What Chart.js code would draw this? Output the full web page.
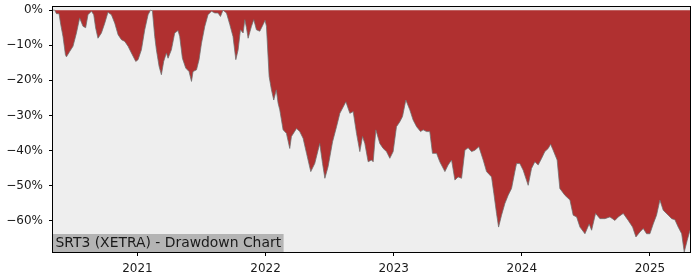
<!DOCTYPE html>
<html>
<head>
<meta charset="utf-8">
<script src="https://cdn.jsdelivr.net/npm/chart.js@4.4.1/dist/chart.umd.min.js"></script>
<style>
  html, body { margin: 0; padding: 0; background: #ffffff; }
  #wrap { width: 700px; height: 280px; position: relative; }
</style>
</head>
<body>
<div id="wrap"><canvas id="c" width="700" height="280"></canvas></div>
<script>
// Time as decimal years
const dates = [
  2020.341, 2020.354, 2020.368, 2020.388, 2020.401, 2020.419, 2020.438, 2020.446, 2020.471, 2020.497,
  2020.524, 2020.549, 2020.575, 2020.596, 2020.614, 2020.641, 2020.659, 2020.674, 2020.692, 2020.719,
  2020.745, 2020.770, 2020.797, 2020.823, 2020.849, 2020.875, 2020.901, 2020.927, 2020.953, 2020.987,
  2021.005, 2021.031, 2021.057, 2021.083, 2021.102, 2021.117, 2021.135, 2021.148, 2021.169, 2021.187,
  2021.205, 2021.226, 2021.239, 2021.265, 2021.291, 2021.317, 2021.330, 2021.351, 2021.377, 2021.403,
  2021.422, 2021.434, 2021.461, 2021.481, 2021.500, 2021.526, 2021.551, 2021.578, 2021.604, 2021.629,
  2021.648, 2021.668, 2021.695, 2021.721, 2021.746, 2021.768, 2021.786, 2021.804, 2021.825, 2021.838,
  2021.851, 2021.864, 2021.890, 2021.908, 2021.929, 2021.955, 2021.981, 2021.996, 2022.007, 2022.028,
  2022.046, 2022.064, 2022.084, 2022.098, 2022.111, 2022.137, 2022.163, 2022.189, 2022.202, 2022.242,
  2022.267, 2022.293, 2022.320, 2022.353, 2022.384, 2022.423, 2022.445, 2022.463, 2022.488, 2022.523,
  2022.554, 2022.580, 2022.627, 2022.658, 2022.684, 2022.710, 2022.736, 2022.757, 2022.775, 2022.801,
  2022.827, 2022.840, 2022.861, 2022.892, 2022.918, 2022.944, 2022.970, 2022.996, 2023.022, 2023.048,
  2023.069, 2023.095, 2023.126, 2023.152, 2023.179, 2023.210, 2023.230, 2023.257, 2023.282, 2023.303,
  2023.335, 2023.360, 2023.400, 2023.425, 2023.452, 2023.478, 2023.503, 2023.530, 2023.556, 2023.581,
  2023.608, 2023.634, 2023.665, 2023.699, 2023.725, 2023.764, 2023.782, 2023.803, 2023.819, 2023.842,
  2023.868, 2023.894, 2023.920, 2023.946, 2023.959, 2023.985, 2024.011, 2024.050, 2024.076, 2024.102,
  2024.128, 2024.155, 2024.180, 2024.206, 2024.225, 2024.245, 2024.276, 2024.297, 2024.336, 2024.376,
  2024.401, 2024.428, 2024.454, 2024.493, 2024.526, 2024.545, 2024.576, 2024.610, 2024.649, 2024.688,
  2024.727, 2024.753, 2024.792, 2024.831, 2024.865, 2024.891, 2024.922, 2024.948, 2024.974, 2025.000,
  2025.026, 2025.052, 2025.078, 2025.104, 2025.143, 2025.170, 2025.195, 2025.221, 2025.248, 2025.268,
  2025.291, 2025.313
];
// Drawdown in percent
const drawdown = [
  0, 0, -1, -1, -4, -7.5, -12.7, -13.3, -11.8, -10.3,
  -6.5, -2.2, -4.6, -5, -1.3, -0.3, -1.3, -5.1, -8, -6.5,
  -3.7, -0.6, -1.3, -3.7, -7, -8.4, -8.9, -10.3, -12.2, -14.6,
  -14.1, -11.3, -5.6, -1.3, 0, -0.2, -7.5, -11.3, -16, -18.4,
  -14.6, -12.2, -13.7, -11.3, -6.5, -5.8, -7.5, -13.7, -16.5, -17.5,
  -20.3, -17.5, -17, -14.1, -9.4, -4.6, -1.3, -0.3, -0.8, -0.8,
  -1.8, 0, -0.8, -4.1, -7.5, -14.1, -11.3, -5.6, -6.5, -2.7,
  -5, -8, -4.6, -2.7, -5.6, -6, -4.1, -2.9, -4.6, -18.9,
  -22.7, -25.6, -22.7, -26.5, -28.4, -34.1, -35.1, -39.4, -36, -33.7,
  -34.6, -36.5, -40.8, -46, -43.7, -38, -43.7, -47.9, -44.6, -37.5,
  -33.2, -29.4, -26.1, -29.4, -28.9, -35.1, -40.3, -36, -38, -43.2,
  -42.7, -43.2, -34.1, -38, -39.4, -40.3, -42.2, -40.3, -33.2, -31.8,
  -30.3, -25.6, -28.4, -31.3, -33.2, -34.6, -34.1, -34.6, -34.6, -40.8,
  -40.8, -43.2, -46, -44.1, -42.7, -48.4, -47.5, -47.9, -39.9, -39.2,
  -40.3, -39.9, -38.9, -42.7, -46, -47.5, -52.2, -57.9, -61.8, -58.4,
  -55.1, -52.7, -50.8, -46, -43.7, -43.7, -45.6, -49.9, -45.1, -43.2,
  -44.1, -42.2, -40.3, -39.4, -38.2, -39.9, -42.7, -50.8, -52.7, -54.1,
  -58.4, -58.9, -61.8, -63.7, -60.9, -62.7, -57.9, -59.4, -59.4, -58.9,
  -59.9, -58.9, -57.9, -59.9, -61.8, -64.6, -63.2, -62.2, -63.7, -63.7,
  -60.9, -58.4, -54.1, -57, -58.4, -59.4, -59.7, -61.8, -63.7, -68.9,
  -65.6, -62.7
];
const yTicks = [0, -10, -20, -30, -40, -50, -60];
const xTicks = [2021, 2022, 2023, 2024, 2025];
const titleText = 'SRT3 (XETRA) - Drawdown Chart';

const FONT = 'DejaVu Sans';
const points = dates.map((d, i) => ({ x: d, y: drawdown[i] }));

const framePlugin = {
  id: 'frame',
  beforeDraw(chart) {
    const { ctx, chartArea: a } = chart;
    ctx.save();
    ctx.fillStyle = '#eeeeee';
    ctx.fillRect(a.left, a.top, a.right - a.left, a.bottom - a.top);
    ctx.restore();
  },
  afterDatasetsDraw(chart) {
    const { ctx, chartArea: a } = chart;
    ctx.save();
    // label box
    ctx.font = '13.9px "' + FONT + '"';
    const w = ctx.measureText(titleText).width;
    ctx.fillStyle = '#b4b4b4';
    ctx.fillRect(a.left, a.bottom - 18, w + 5, 18);
    ctx.fillStyle = '#1a1a1a';
    ctx.textBaseline = 'middle';
    ctx.fillText(titleText, a.left + 2.5, a.bottom - 8.5);
    // frame
    ctx.strokeStyle = '#000000';
    ctx.lineWidth = 1;
    ctx.strokeRect(Math.round(a.left) - 0.5, Math.round(a.top) - 0.5, Math.round(a.right - a.left) + 1, Math.round(a.bottom - a.top) + 1);
    ctx.restore();
  }
};

new Chart(document.getElementById('c'), {
  type: 'line',
  data: {
    datasets: [{
      data: points,
      fill: { value: 0 },
      backgroundColor: '#b03030',
      borderColor: 'rgba(110,110,110,0.75)',
      borderWidth: 1,
      pointRadius: 0,
      tension: 0
    }]
  },
  options: {
    responsive: false,
    animation: false,
    devicePixelRatio: 1,
    layout: { padding: { top: 7, right: 10, left: 0, bottom: 0 } },
    plugins: { legend: { display: false }, tooltip: { enabled: false } },
    scales: {
      x: {
        type: 'linear',
        min: 2020.341,
        max: 2025.313,
        afterBuildTicks(scale) { scale.ticks = xTicks.map(v => ({ value: v })); },
        afterFit(scale) { scale.height = 28; scale.paddingLeft = 0; scale.paddingRight = 0; },
        grid: { drawOnChartArea: false, drawTicks: true, tickLength: 4, color: '#000000' },
        border: { display: false },
        ticks: {
          color: '#1a1a1a',
          font: { family: FONT, size: 12 },
          padding: 6,
          maxRotation: 0,
          callback: v => String(v)
        }
      },
      y: {
        min: -68.9,
        max: 0.9,
        afterBuildTicks(scale) { scale.ticks = yTicks.map(v => ({ value: v })); },
        afterFit(scale) { scale.width = 53; scale.paddingTop = 0; scale.paddingBottom = 0; },
        grid: { drawOnChartArea: false, drawTicks: true, tickLength: 4, color: '#000000' },
        border: { display: false },
        ticks: {
          color: '#1a1a1a',
          font: { family: FONT, size: 12 },
          padding: 6,
          callback: v => (v < 0 ? '\u2212' + Math.abs(v) : String(v)) + '%'
        }
      }
    }
  },
  plugins: [framePlugin]
});
</script>
</body>
</html>
